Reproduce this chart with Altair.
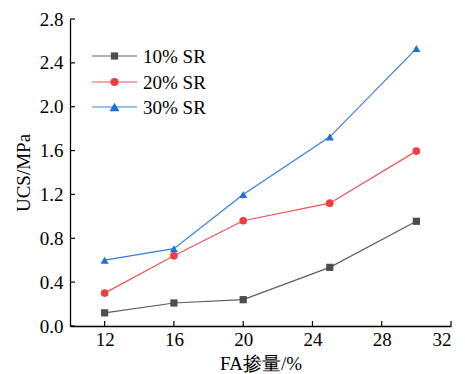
import altair as alt
import pandas as pd

# ---- data ----
fa = [12, 16, 20, 25, 30]
sr10 = [0.12, 0.21, 0.24, 0.535, 0.955]
sr20 = [0.30, 0.64, 0.96, 1.12, 1.595]
sr30 = [0.60, 0.705, 1.20, 1.725, 2.53]
series = ["10% SR", "20% SR", "30% SR"]
colors = ["#4d4d4d", "#ee3e42", "#1f6fdc"]
shapes = ["square", "circle", "triangle-up"]
sizes = [52, 66, 100]
x_ticks = [12, 16, 20, 24, 28, 32]
y_ticks = [0.0, 0.4, 0.8, 1.2, 1.6, 2.0, 2.4, 2.8]

W, H = 381, 307
FONT = "Liberation Serif, Times New Roman, serif"

rows = []
for name, vals in zip(series, [sr10, sr20, sr30]):
    for x, y in zip(fa, vals):
        rows.append({"FA": x, "UCS": y, "series": name})
df = pd.DataFrame(rows)

xscale = alt.Scale(domain=[10, 32], nice=False, zero=False)
yscale = alt.Scale(domain=[0, 2.8], nice=False)
cscale = alt.Scale(domain=series, range=colors)
sscale = alt.Scale(domain=series, range=shapes)
zscale = alt.Scale(domain=series, range=sizes)

xaxis = alt.Axis(title="FA掺量/%", values=x_ticks, format="d",
                 labelPadding=4, titlePadding=5)
yaxis = alt.Axis(title="UCS/MPa", values=y_ticks, format=".1f",
                 labelPadding=7, titlePadding=6)

base = alt.Chart(df)
lines = base.mark_line(strokeWidth=1.2, opacity=0.9).encode(
    x=alt.X("FA:Q", scale=xscale, axis=xaxis),
    y=alt.Y("UCS:Q", scale=yscale, axis=yaxis),
    color=alt.Color("series:N", scale=cscale, legend=None),
    detail="series:N",
)
points = base.mark_point(filled=True, opacity=1).encode(
    x=alt.X("FA:Q", scale=xscale, axis=xaxis),
    y=alt.Y("UCS:Q", scale=yscale, axis=yaxis),
    color=alt.Color("series:N", scale=cscale, legend=None),
    shape=alt.Shape("series:N", scale=sscale, legend=None),
    size=alt.Size("series:N", scale=zscale, legend=None),
)

# inward ticks
xt = alt.Chart(pd.DataFrame({"FA": x_ticks})).mark_rule(color="black", strokeWidth=1.2).encode(
    x=alt.X("FA:Q", scale=xscale, axis=xaxis),
    y=alt.value(H), y2=alt.value(H - 5),
)
yt = alt.Chart(pd.DataFrame({"UCS": y_ticks})).mark_rule(color="black", strokeWidth=1.2).encode(
    y=alt.Y("UCS:Q", scale=yscale, axis=yaxis),
    x=alt.value(0), x2=alt.value(5),
)

# manual legend
leg_layers = []
row_y = [37, 63, 88]
for name, col, shp, sz, ry in zip(series, colors, shapes, sizes, row_y):
    d = alt.Chart(pd.DataFrame({"s": [name]}))
    leg_layers.append(d.mark_rule(color=col, strokeWidth=1.2, opacity=0.9).encode(
        x=alt.value(22), x2=alt.value(67), y=alt.value(ry)))
    leg_layers.append(d.mark_point(filled=True, opacity=1, size=sz, color=col, shape=shp).encode(
        x=alt.value(44.5), y=alt.value(ry)))
    leg_layers.append(d.mark_text(align="left", baseline="middle", font=FONT,
                                  fontSize=19, color="black").encode(
        x=alt.value(73), y=alt.value(ry + 1), text="s:N"))

chart = alt.layer(lines, points, xt, yt, *leg_layers).properties(
    width=W, height=H,
    autosize=alt.AutoSizeParams(type="none"),
    padding={"left": 62, "top": 11, "right": 6, "bottom": 48},
).configure_view(stroke=None).configure_axis(
    grid=False, tickSize=0, domainColor="black", domainWidth=1.3,
    labelFont=FONT, labelFontSize=19, labelColor="black",
    titleFont=FONT, titleFontSize=19, titleColor="black", titleFontWeight="normal",
).configure_text(font=FONT, fontSize=19)

chart.save("out.html", embed_options={"renderer": "svg", "actions": False})
